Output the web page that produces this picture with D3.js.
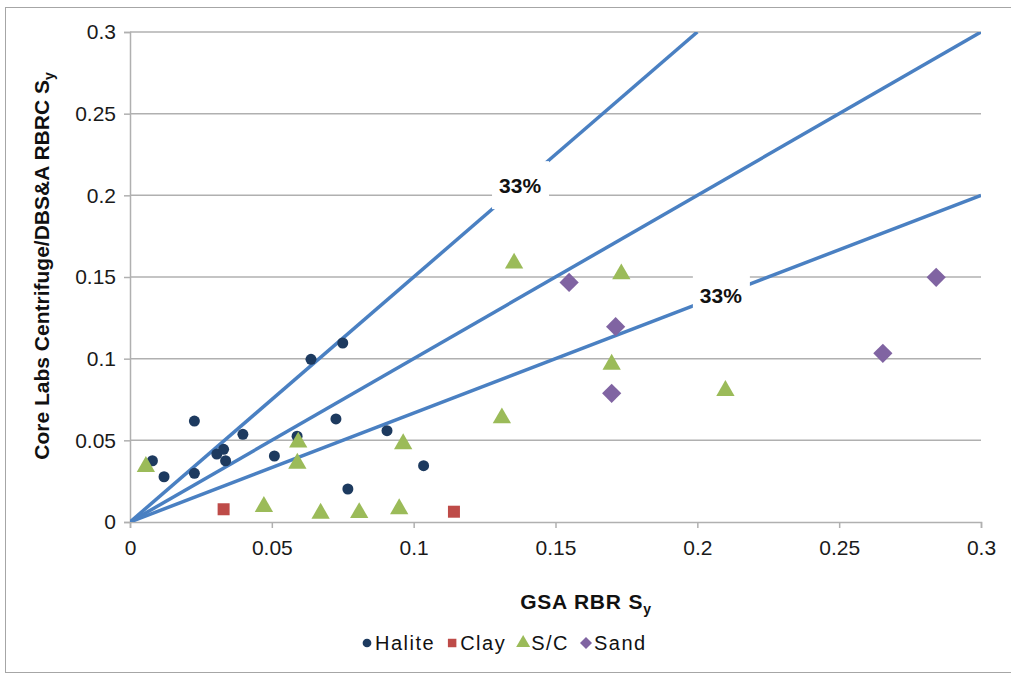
<!DOCTYPE html>
<html>
<head>
<meta charset="utf-8">
<script src="https://cdn.jsdelivr.net/npm/d3@7"></script>
<style>
  html, body { margin: 0; padding: 0; background: #fff; }
  svg { display: block; font-family: "Liberation Sans", Arial, sans-serif; }
</style>
</head>
<body>
<svg id="chart" width="1011" height="675"></svg>
<script>
// Specific yield: GSA RBR (x) vs Core Labs Centrifuge / DBS&A RBRC (y)
const haliteX = [0.0079, 0.012, 0.0227, 0.0227, 0.0306, 0.033, 0.0337, 0.0398, 0.0509, 0.0589, 0.0638, 0.075, 0.0726, 0.0768, 0.0906, 0.1035];
const haliteY = [0.0375, 0.0277, 0.0618, 0.0298, 0.0416, 0.0445, 0.0375, 0.0537, 0.0404, 0.0525, 0.0996, 0.1096, 0.0631, 0.0202, 0.0559, 0.0345];

const clayX = [0.033, 0.1142];
const clayY = [0.0078, 0.0063];

const scX = [0.0056, 0.0593, 0.059, 0.0472, 0.0672, 0.0808, 0.0949, 0.0963, 0.1311, 0.1354, 0.1732, 0.1698, 0.2099];
const scY = [0.0339, 0.0488, 0.0359, 0.0094, 0.0053, 0.0057, 0.008, 0.0478, 0.0637, 0.1584, 0.1518, 0.0965, 0.0804];

const sandX = [0.1548, 0.1712, 0.1698, 0.2654, 0.2842];
const sandY = [0.1467, 0.1196, 0.0788, 0.1033, 0.1498];

// Reference lines through the origin (1:1 and the two 33% bounds)
const lineSlopes = [1.5, 1, 2 / 3];
const lineLabelSlopes = [1.5, 2 / 3];
const lineLabelX = [0.1375, 0.2083];
const lineLabelText = ["33%", "33%"];

const tickValues = [0, 0.05, 0.1, 0.15, 0.2, 0.25, 0.3];
const tickLabels = ["0", "0.05", "0.1", "0.15", "0.2", "0.25", "0.3"];

const seriesNames = ["Halite", "Clay", "S/C", "Sand"];
const seriesColors = ["#1d3a5f", "#be4b48", "#9bbb59", "#8064a2"];

// ---------------------------------------------------------------
const svg = d3.select("#chart");
const plot = { left: 130, right: 981, top: 32, bottom: 522 };
const x = d3.scaleLinear().domain([0, 0.3]).range([plot.left, plot.right]);
const y = d3.scaleLinear().domain([0, 0.3]).range([plot.bottom, plot.top]);
const gridColor = "#b0b0b0";

// chart frame
svg.append("rect")
  .attr("x", 5.5).attr("y", 7.5).attr("width", 1010).attr("height", 665)
  .attr("fill", "none").attr("stroke", "#a6a6a6").attr("stroke-width", 1);

// horizontal gridlines
svg.append("g")
  .selectAll("line")
  .data(tickValues.slice(1))
  .join("line")
  .attr("x1", plot.left).attr("x2", plot.right)
  .attr("y1", d => y(d)).attr("y2", d => y(d))
  .attr("stroke", gridColor).attr("stroke-width", 1.5);

// y axis
const yAxis = d3.axisLeft(y).tickValues(tickValues)
  .tickFormat((d, i) => tickLabels[i]).tickSize(6).tickPadding(8);
const gy = svg.append("g").attr("transform", `translate(${plot.left},0)`).call(yAxis);
gy.select(".domain").attr("stroke", gridColor).attr("stroke-width", 1.5);
gy.selectAll(".tick line").attr("stroke", gridColor).attr("stroke-width", 1.5);
gy.selectAll(".tick text").attr("font-size", 21).attr("fill", "#1a1a1a")
  .attr("font-family", "Liberation Sans, Arial, sans-serif");

// x axis
const xAxis = d3.axisBottom(x).tickValues(tickValues)
  .tickFormat((d, i) => tickLabels[i]).tickSize(6).tickPadding(12);
const gx = svg.append("g").attr("transform", `translate(0,${plot.bottom})`).call(xAxis);
gx.select(".domain").attr("stroke", gridColor).attr("stroke-width", 1.5);
gx.selectAll(".tick line").attr("stroke", gridColor).attr("stroke-width", 1.5);
gx.selectAll(".tick text").attr("font-size", 21).attr("fill", "#1a1a1a")
  .attr("font-family", "Liberation Sans, Arial, sans-serif");

// reference lines, clipped to the plot
svg.append("clipPath").attr("id", "plotClip")
  .append("rect").attr("x", plot.left).attr("y", plot.top)
  .attr("width", plot.right - plot.left).attr("height", plot.bottom - plot.top);

const lineGen = d3.line().x(d => x(d[0])).y(d => y(d[1]));
svg.append("g").attr("clip-path", "url(#plotClip)")
  .selectAll("path")
  .data(lineSlopes)
  .join("path")
  .attr("d", s => {
    const xEnd = Math.min(0.3, 0.3 / s);
    return lineGen([[0, 0], [xEnd, s * xEnd]]);
  })
  .attr("fill", "none").attr("stroke", "#4a80c2").attr("stroke-width", 3.5);

// line labels on white boxes
const lbl = svg.append("g").selectAll("g")
  .data(lineLabelSlopes.map((s, i) => ({ s, xv: lineLabelX[i], t: lineLabelText[i] })))
  .join("g")
  .attr("transform", d => `translate(${x(d.xv)},${y(d.s * d.xv)})`);
lbl.append("rect").attr("x", -28).attr("y", -24).attr("width", 57).attr("height", 48).attr("fill", "#fff");
lbl.append("text").attr("text-anchor", "middle").attr("dy", "0.36em")
  .attr("font-size", 21).attr("font-weight", "bold").attr("fill", "#111")
  .text(d => d.t);

// markers
const circleSym = d3.symbol().type(d3.symbolCircle).size(95);
const squareSym = d3.symbol().type(d3.symbolSquare).size(144);
const triSym = d3.symbol().type(d3.symbolTriangle).size(145);
const diamondSym = d3.symbol().type(d3.symbolSquare).size(185);

function drawSeries(xs, ys, sym, color, rotate) {
  svg.append("g").selectAll("path")
    .data(xs.map((v, i) => [v, ys[i]]))
    .join("path")
    .attr("d", sym)
    .attr("transform", d => `translate(${x(d[0])},${y(d[1])})` + (rotate ? " rotate(45)" : ""))
    .attr("fill", color);
}
drawSeries(haliteX, haliteY, circleSym, seriesColors[0], false);
drawSeries(clayX, clayY, squareSym, seriesColors[1], false);
drawSeries(scX, scY, triSym, seriesColors[2], false);
drawSeries(sandX, sandY, diamondSym, seriesColors[3], true);

// axis titles
const xt = svg.append("text").attr("x", 586).attr("y", 609).attr("text-anchor", "middle")
  .attr("font-size", 21).attr("font-weight", "bold").attr("fill", "#111")
  .attr("letter-spacing", 0.8);
xt.append("tspan").text("GSA RBR S");
xt.append("tspan").attr("font-size", 14).attr("dy", 5).text("y");

const yt = svg.append("text").attr("transform", "translate(49,266) rotate(-90)")
  .attr("text-anchor", "middle")
  .attr("font-size", 21).attr("font-weight", "bold").attr("fill", "#111");
yt.append("tspan").text("Core Labs Centrifuge/DBS&A RBRC S");
yt.append("tspan").attr("font-size", 14).attr("dy", 5).text("y");

// legend
const legendSyms = [
  d3.symbol().type(d3.symbolCircle).size(60),
  d3.symbol().type(d3.symbolSquare).size(72),
  d3.symbol().type(d3.symbolTriangle).size(85),
  d3.symbol().type(d3.symbolSquare).size(72)
];
const legend = svg.append("g");
let lx = 363;
seriesNames.forEach((name, i) => {
  const item = legend.append("g");
  item.append("path").attr("d", legendSyms[i]())
    .attr("transform", `translate(${lx + 4},643)` + (i === 3 ? " rotate(45)" : ""))
    .attr("fill", seriesColors[i]);
  const t = item.append("text").attr("x", lx + 12).attr("y", 650)
    .attr("font-size", 20).attr("letter-spacing", 1.5).attr("fill", "#111").text(name);
  lx += 12 + t.node().getComputedTextLength() + 13;
});
</script>
</body>
</html>
